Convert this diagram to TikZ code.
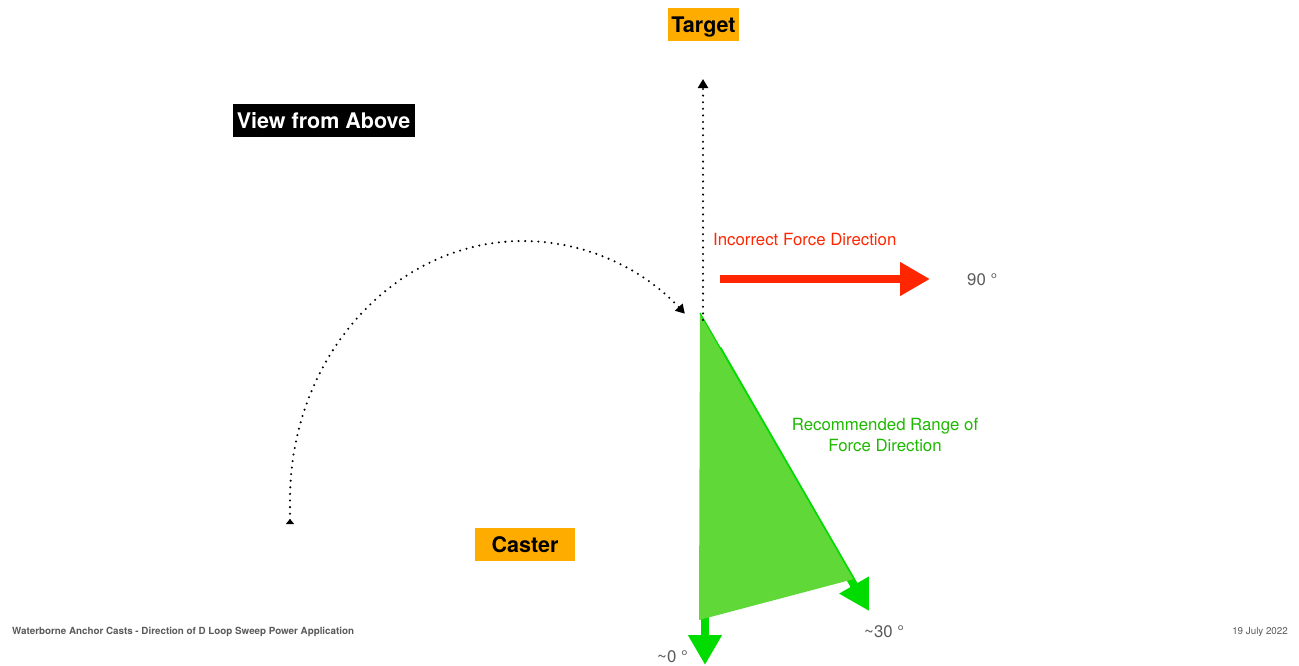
\documentclass[tikz,border=0pt]{standalone}
\usepackage{fontspec}
\setmainfont{TeX Gyre Heros}
\usetikzlibrary{arrows.meta}
\definecolor{boxorange}{RGB}{255,172,0}
\definecolor{forcered}{RGB}{255,38,0}
\definecolor{trifill}{RGB}{96,216,56}
\definecolor{arrowgreen}{RGB}{0,220,0}
\definecolor{textgreen}{RGB}{30,185,0}
\definecolor{labelgray}{RGB}{90,90,90}
\begin{document}
\begin{tikzpicture}[x=1pt,y=-1pt,
  boxlabel/.style={inner sep=0pt, font=\bfseries\fontsize{21.5}{24}\selectfont,
    text height=15.5pt, text depth=0pt},
  dotline/.style={line width=2.3pt, dash pattern=on 0pt off 6.6pt, line cap=round},
  smalltip/.style={-{Triangle[length=9pt,width=10pt]}},
  bigarrow/.style={line width=8pt, -{Triangle[length=30pt,width=32pt]}},
  midlabel/.style={inner sep=0pt, font=\fontsize{16.8}{19}\selectfont},
  footlabel/.style={inner sep=0pt, text=labelgray, font=\fontsize{9.8}{11}\selectfont}
]
\useasboundingbox (0,0) rectangle (1299,665);
\fill[white] (0,0) rectangle (1299,665);

% coordinates
\coordinate (apex) at (700,313);
\coordinate (bl) at (699,620);
\coordinate (br) at (854,579);
\coordinate (redstart) at (720,279);
\coordinate (redtip) at (930,279);
\coordinate (zstart) at (705,600);
\coordinate (ztip) at (705,665);
\coordinate (tstart) at (717.7,349);
\coordinate (ttip) at (869,611);
\coordinate (vstart) at (703,320);
\coordinate (vtip) at (703,79);
\coordinate (arcstart) at (290,524);

% boxes
\node[boxlabel, fill=boxorange, minimum width=71pt, minimum height=33pt] (target) at (703.5,24.5) {Target};
\node[boxlabel, fill=black, text=white, minimum width=182pt, minimum height=33pt] (view) at (323.5,120.5) {View from Above};
\node[boxlabel, fill=boxorange, minimum width=100pt, minimum height=33pt] (caster) at (525,544.5) {Caster};

% force arrows
\draw[bigarrow, forcered] (redstart) -- (redtip);
\draw[bigarrow, arrowgreen] (tstart) -- (ttip);
\draw[bigarrow, arrowgreen] (zstart) -- (ztip);

% recommended range
\fill[trifill] (apex) -- (bl) -- (br) -- cycle;
\draw[arrowgreen, line width=1.2pt] (apex) -- (br);

% dotted lines
\draw[dotline, smalltip] (vstart) -- (vtip);
\draw[dotline, {Triangle[reversed,length=5pt,width=8pt]}-{Triangle[length=9pt,width=10pt]}]
  (arcstart) -- (290,500) arc[start angle=180, end angle=46, x radius=233pt, y radius=259pt];

% labels
\node[midlabel, text=forcered, anchor=west] (incorrect) at (713,239) {Incorrect Force Direction};
\node[midlabel, text=labelgray, anchor=west] (ninety) at (967,280) {90 °};
\node[midlabel, text=textgreen, align=center] (recommended) at (885,435) {Recommended Range of\\[2pt]Force Direction};
\node[midlabel, text=labelgray, anchor=west] (thirty) at (864,632) {\textasciitilde30 °};
\node[midlabel, text=labelgray, anchor=west] (zero) at (657,657) {\textasciitilde0 °};

% footer
\node[footlabel, anchor=west, font=\bfseries\fontsize{9.8}{11}\selectfont] (footl) at (12,632) {Waterborne Anchor Casts - Direction of D Loop Sweep Power Application};
\node[footlabel, anchor=east] (footr) at (1288,632) {19 July 2022};
\end{tikzpicture}
\end{document}
